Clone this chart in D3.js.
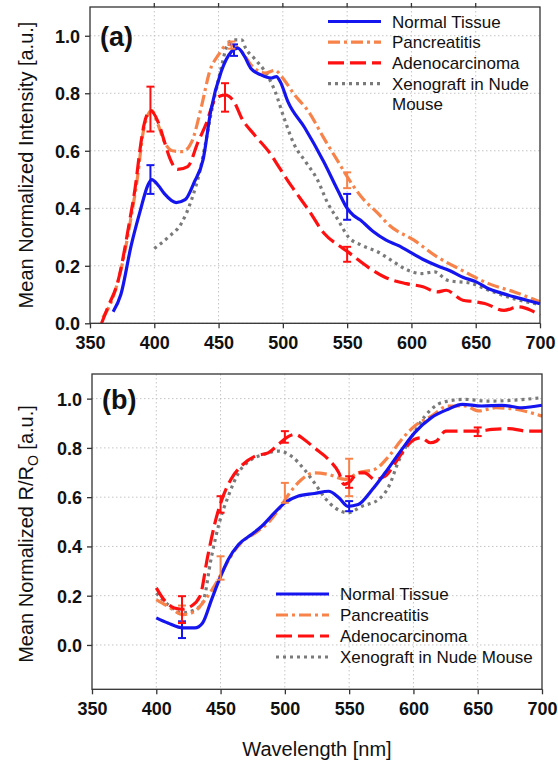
<!DOCTYPE html>
<html>
<head>
  <meta charset="utf-8">
  <title>Fluorescence and reflectance spectra</title>
  <style>
    body { margin: 0; background: #fff; }
  </style>
</head>
<body>
  <div id="chart"></div>

  <script src="https://d3js.org/d3.v7.min.js"></script>
  <script>
    // ---- data ----
    var seriesNames = ["Normal Tissue", "Pancreatitis", "Adenocarcinoma", "Xenograft in Nude Mouse"];
    var xTicks = [350, 400, 450, 500, 550, 600, 650, 700];
    var yTicks = [0.0, 0.2, 0.4, 0.6, 0.8, 1.0];

    // (a) fluorescence
    var aNormalWl  = [368, 374, 382, 389, 395, 398, 403, 408, 417, 424, 431, 438, 444, 452, 460, 465, 470, 475, 483, 491, 495, 498, 504, 517, 532, 543, 550, 555, 560, 570, 580, 590, 600, 610, 620, 630, 640, 650, 660, 670, 680, 690, 700];
    var aNormalVal = [0.04, 0.10, 0.27, 0.39, 0.48, 0.50, 0.48, 0.45, 0.42, 0.43, 0.49, 0.57, 0.74, 0.875, 0.945, 0.957, 0.93, 0.887, 0.864, 0.853, 0.858, 0.84, 0.77, 0.68, 0.56, 0.46, 0.40, 0.375, 0.36, 0.32, 0.29, 0.27, 0.245, 0.22, 0.20, 0.183, 0.16, 0.145, 0.12, 0.105, 0.092, 0.08, 0.068];

    var aPancWl  = [360, 367, 374, 382, 387, 391, 395, 398, 403, 408, 414, 422, 429, 437, 443, 450, 457, 462, 468, 475, 486, 494, 499, 509, 520, 532, 543, 550, 561, 574, 583, 602, 620, 639, 660, 680, 700];
    var aPancVal = [0.02, 0.08, 0.185, 0.37, 0.51, 0.655, 0.725, 0.74, 0.69, 0.63, 0.60, 0.597, 0.63, 0.76, 0.875, 0.934, 0.97, 0.965, 0.945, 0.90, 0.87, 0.88, 0.858, 0.795, 0.736, 0.643, 0.562, 0.51, 0.44, 0.382, 0.34, 0.289, 0.231, 0.185, 0.138, 0.109, 0.075];

    var aAdenoWl  = [359, 364, 372, 380, 386, 388, 392, 397, 403, 408, 412, 418, 426, 434, 440, 448, 455, 462, 468, 478, 491, 496, 507, 520, 532, 545, 550, 566, 579, 596, 609, 620, 627, 640, 648, 657, 672, 683, 693, 700];
    var aAdenoVal = [0.0, 0.057, 0.15, 0.335, 0.50, 0.574, 0.69, 0.74, 0.70, 0.63, 0.575, 0.535, 0.545, 0.63, 0.69, 0.783, 0.794, 0.771, 0.713, 0.655, 0.585, 0.55, 0.475, 0.394, 0.313, 0.266, 0.25, 0.196, 0.161, 0.138, 0.127, 0.109, 0.115, 0.08, 0.076, 0.069, 0.045, 0.057, 0.045, 0.028];

    var aXenoWl  = [400, 411, 421, 429, 436, 440, 444, 452, 457, 462, 468, 471, 478, 486, 494, 501, 509, 518, 527, 535, 543, 551, 561, 574, 584, 597, 608, 618, 628, 647, 660, 680, 700];
    var aXenoVal = [0.26, 0.30, 0.347, 0.43, 0.54, 0.63, 0.725, 0.887, 0.97, 0.986, 0.986, 0.957, 0.92, 0.876, 0.806, 0.713, 0.62, 0.56, 0.498, 0.417, 0.359, 0.30, 0.272, 0.248, 0.22, 0.185, 0.173, 0.179, 0.15, 0.138, 0.115, 0.085, 0.065];

    // error bars [wavelength, low, high]
    var aNormalErr = [[397, 0.45, 0.55], [462, 0.93, 0.97], [550, 0.36, 0.45]];
    var aPancErr   = [[460, 0.955, 0.98], [550, 0.47, 0.525]];
    var aAdenoErr  = [[397, 0.667, 0.823], [455, 0.736, 0.835], [550, 0.214, 0.266]];

    // (b) reflectance
    var bNormalWl  = [400, 409, 421, 430, 436, 443, 449, 456, 464, 474, 482, 492, 500, 510, 523, 534, 542, 549, 557, 568, 578, 591, 601, 614, 627, 638, 653, 669, 684, 700];
    var bNormalVal = [0.11, 0.089, 0.069, 0.069, 0.089, 0.184, 0.265, 0.347, 0.408, 0.448, 0.482, 0.537, 0.577, 0.604, 0.615, 0.624, 0.598, 0.563, 0.57, 0.631, 0.699, 0.794, 0.862, 0.923, 0.957, 0.977, 0.970, 0.973, 0.963, 0.973];

    var bPancWl  = [400, 409, 421, 430, 438, 445, 451, 458, 466, 477, 487, 497, 502, 513, 523, 534, 547, 557, 570, 581, 591, 601, 614, 627, 640, 651, 664, 679, 700];
    var bPancVal = [0.184, 0.157, 0.123, 0.137, 0.184, 0.238, 0.293, 0.36, 0.415, 0.455, 0.496, 0.563, 0.604, 0.672, 0.699, 0.692, 0.672, 0.699, 0.713, 0.767, 0.835, 0.889, 0.929, 0.97, 0.97, 0.95, 0.963, 0.957, 0.929];

    var bAdenoWl  = [400, 407, 414, 420, 427, 434, 440, 447, 451, 458, 466, 477, 487, 495, 501, 508, 515, 523, 534, 542, 546, 550, 557, 562, 570, 578, 586, 593, 601, 606, 613, 618, 625, 635, 650, 661, 674, 689, 700];
    var bAdenoVal = [0.232, 0.177, 0.15, 0.145, 0.157, 0.198, 0.36, 0.523, 0.59, 0.672, 0.726, 0.767, 0.78, 0.814, 0.841, 0.855, 0.834, 0.80, 0.753, 0.699, 0.652, 0.66, 0.699, 0.699, 0.672, 0.685, 0.74, 0.794, 0.835, 0.841, 0.821, 0.828, 0.868, 0.868, 0.868, 0.875, 0.878, 0.868, 0.868];

    var bXenoWl  = [400, 410, 420, 430, 436, 443, 449, 456, 464, 474, 484, 495, 505, 515, 523, 531, 539, 549, 560, 573, 581, 588, 599, 609, 619, 627, 640, 658, 679, 700];
    var bXenoVal = [0.21, 0.16, 0.13, 0.143, 0.17, 0.36, 0.496, 0.604, 0.699, 0.753, 0.774, 0.787, 0.767, 0.713, 0.658, 0.598, 0.557, 0.537, 0.563, 0.591, 0.645, 0.74, 0.848, 0.929, 0.977, 0.99, 0.997, 0.99, 0.994, 1.004];

    var bNormalErr = [[420, 0.028, 0.096], [550, 0.543, 0.584]];
    var bPancErr   = [[420, 0.09, 0.16], [450, 0.265, 0.36], [500, 0.577, 0.658], [550, 0.604, 0.756]];
    var bAdenoErr  = [[420, 0.089, 0.198], [450, 0.537, 0.604], [500, 0.821, 0.868], [550, 0.638, 0.685], [650, 0.848, 0.883]];

    // ---- styles ----
    var styles = [
      {color: "#1515f0", dash: null},
      {color: "#f7834a", dash: "12,4,3,4"},
      {color: "#ff1010", dash: "16,6"},
      {color: "#7a7a7a", dash: "3,4"}
    ];
    var font = "'Liberation Sans', Arial, sans-serif";

    var svg = d3.select("#chart").append("svg")
        .attr("width", 558)
        .attr("height", 762);

    function zip(wl, val) {
      return wl.map(function(w, i) { return [w, val[i]]; });
    }

    function drawPanel(p) {
      var x = d3.scaleLinear().domain([350, 700]).range([p.left, p.right]);
      var y = d3.scaleLinear().domain(p.yDomain).range([p.bottom, p.top]);
      var g = svg.append("g");

      // grid
      g.selectAll(".gx").data(xTicks.slice(1, -1)).enter().append("line")
          .attr("x1", function(d) { return x(d); }).attr("x2", function(d) { return x(d); })
          .attr("y1", p.top).attr("y2", p.bottom)
          .attr("stroke", "#c4c4c4").attr("stroke-width", 1).attr("stroke-dasharray", "1.5,2.5");
      g.selectAll(".gy").data(yTicks).enter().append("line")
          .attr("x1", p.left).attr("x2", p.right)
          .attr("y1", function(d) { return y(d); }).attr("y2", function(d) { return y(d); })
          .attr("stroke", "#c4c4c4").attr("stroke-width", 1).attr("stroke-dasharray", "1.5,2.5");

      var line = d3.line()
          .x(function(d) { return x(d[0]); })
          .y(function(d) { return y(d[1]); })
          .curve(d3.curveMonotoneX);

      // curves (drawn back to front)
      [3, 1, 2, 0].forEach(function(i) {
        g.append("path")
            .datum(p.series[i])
            .attr("d", line)
            .attr("fill", "none")
            .attr("stroke", styles[i].color)
            .attr("stroke-width", 3.2)
            .attr("stroke-dasharray", styles[i].dash);
      });

      // error bars
      p.errors.forEach(function(errs, i) {
        errs.forEach(function(e) {
          var ex = x(e[0]);
          var eg = g.append("g").attr("stroke", styles[i].color).attr("stroke-width", 2);
          eg.append("line").attr("x1", ex).attr("x2", ex).attr("y1", y(e[1])).attr("y2", y(e[2]));
          eg.append("line").attr("x1", ex - 4).attr("x2", ex + 4).attr("y1", y(e[1])).attr("y2", y(e[1]));
          eg.append("line").attr("x1", ex - 4).attr("x2", ex + 4).attr("y1", y(e[2])).attr("y2", y(e[2]));
        });
      });

      // frame
      g.append("rect")
          .attr("x", p.left).attr("y", p.top)
          .attr("width", p.right - p.left).attr("height", p.bottom - p.top)
          .attr("fill", "none").attr("stroke", "#333").attr("stroke-width", 1.3);

      // axes
      var xAxis = g.append("g")
          .attr("transform", "translate(0," + p.bottom + ")")
          .call(d3.axisBottom(x).tickValues(xTicks).tickSize(5).tickPadding(8));
      var yAxis = g.append("g")
          .attr("transform", "translate(" + p.left + ",0)")
          .call(d3.axisLeft(y).tickValues(yTicks).tickFormat(d3.format(".1f")).tickSize(5).tickPadding(5));
      [xAxis, yAxis].forEach(function(a) {
        a.select(".domain").remove();
        a.selectAll("line").attr("stroke", "#333").attr("stroke-width", 1.3);
        a.selectAll("text")
            .attr("font-family", font).attr("font-size", 18).attr("font-weight", "bold")
            .attr("fill", "#111");
      });
      yAxis.selectAll("text").attr("dy", "0.36em");

      if (p.topTicks) {
        g.selectAll(".tt").data(xTicks.slice(1, -1)).enter().append("line")
            .attr("x1", function(d) { return x(d); }).attr("x2", function(d) { return x(d); })
            .attr("y1", p.top).attr("y2", p.top - 4)
            .attr("stroke", "#333").attr("stroke-width", 1.3);
      }

      // panel label
      g.append("text")
          .attr("x", p.left + 10).attr("y", p.labelY)
          .attr("font-family", font).attr("font-size", 27).attr("font-weight", "bold")
          .attr("fill", "#111")
          .text(p.label);

      // legend
      var lg = g.append("g");
      seriesNames.forEach(function(name, i) {
        var ly = p.legendY + i * p.legendStep;
        lg.append("line")
            .attr("x1", p.legendX).attr("x2", p.legendX + 53)
            .attr("y1", ly).attr("y2", ly)
            .attr("stroke", styles[i].color).attr("stroke-width", 3.2)
            .attr("stroke-dasharray", styles[i].dash);
        var lines = p.legendWrap && i === 3 ? ["Xenograft in Nude", "Mouse"] : [name];
        lines.forEach(function(t, k) {
          lg.append("text")
              .attr("x", p.legendX + 64).attr("y", ly + 6 + k * p.legendStep)
              .attr("font-family", font).attr("font-size", 17)
              .attr("fill", "#111")
              .text(t);
        });
      });

      // y title
      var yt = g.append("text")
          .attr("transform", "translate(33," + p.titleY + ") rotate(-90)")
          .attr("text-anchor", "middle")
          .attr("font-family", font).attr("font-size", 20)
          .attr("fill", "#111");
      p.yTitle(yt);

      return x;
    }

    drawPanel({
      left: 90, right: 540, top: 7, bottom: 323.3, yDomain: [0, 1.1],
      series: [zip(aNormalWl, aNormalVal), zip(aPancWl, aPancVal), zip(aAdenoWl, aAdenoVal), zip(aXenoWl, aXenoVal)],
      errors: [aNormalErr, aPancErr, aAdenoErr, []],
      label: "(a)", labelY: 46, topTicks: true,
      legendX: 328, legendY: 21.5, legendStep: 20.7, legendWrap: true,
      titleY: 165,
      yTitle: function(t) { t.text("Mean Normalized Intensity [a.u.]"); }
    });

    var xb = drawPanel({
      left: 92, right: 542, top: 374, bottom: 689.3, yDomain: [-0.18, 1.1],
      series: [zip(bNormalWl, bNormalVal), zip(bPancWl, bPancVal), zip(bAdenoWl, bAdenoVal), zip(bXenoWl, bXenoVal)],
      errors: [bNormalErr, bPancErr, bAdenoErr, []],
      label: "(b)", labelY: 409, topTicks: false,
      legendX: 276, legendY: 594, legendStep: 21,
      titleY: 534,
      yTitle: function(t) {
        t.append("tspan").text("Mean Normalized R/R");
        t.append("tspan").attr("font-size", 14).attr("dy", 5).text("O");
        t.append("tspan").attr("dy", -5).text(" [a.u.]");
      }
    });

    svg.append("text")
        .attr("x", 317).attr("y", 756)
        .attr("text-anchor", "middle")
        .attr("font-family", font).attr("font-size", 20)
        .attr("fill", "#111")
        .text("Wavelength [nm]");
  </script>
</body>
</html>
